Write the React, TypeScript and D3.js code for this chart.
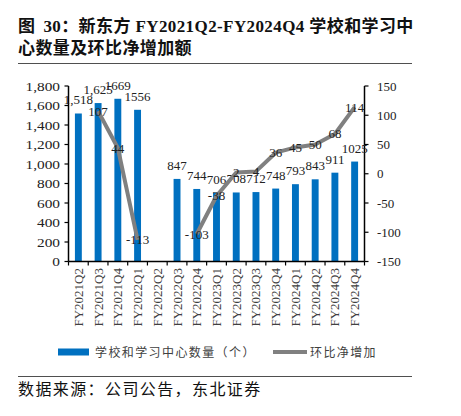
import React from 'react';
import * as d3 from 'd3';

const categories = [
  'FY2021Q2', 'FY2021Q3', 'FY2021Q4', 'FY2022Q1', 'FY2022Q2', 'FY2022Q3', 'FY2022Q4',
  'FY2023Q1', 'FY2023Q2', 'FY2023Q3', 'FY2023Q4', 'FY2024Q1', 'FY2024Q2', 'FY2024Q3', 'FY2024Q4',
];
// schools and learning centers (count); FY2022Q2 not disclosed
const centers: (number | null)[] = [1518, 1625, 1669, 1556, null, 847, 744, 706, 708, 712, 748, 793, 843, 911, 1025];
// labels as printed in the source (mixed thousands separators)
const centerLabels = ['1,518', '1,625', '1669', '1556', '', '847', '744', '706', '708', '712', '748', '793', '843', '911', '1025'];
// quarter-on-quarter net additions
const netAdds: (number | null)[] = [null, 107, 44, -113, null, null, -103, -38, 2, 4, 36, 45, 50, 68, 114];

const leftTicks = [0, 200, 400, 600, 800, 1000, 1200, 1400, 1600, 1800];
const rightTicks = [-150, -100, -50, 0, 50, 100, 150];

const W = 461;
const H = 416;
const SERIF = "'Liberation Serif', 'Times New Roman', 'Noto Sans CJK SC', serif";
const BLUE = '#0070c0';
const GREY = '#808080';

const App = () => {
  const x = d3.scaleBand<string>().domain(categories).range([68.5, 364.5]).padding(0);
  const yL = d3.scaleLinear().domain([0, 1800]).range([261.5, 86]);
  const yR = d3.scaleLinear().domain([-150, 150]).range([261.5, 86]);
  const bw = x.bandwidth() * 0.35;
  const cx = (c: string) => (x(c) as number) + x.bandwidth() / 2;

  const line = d3.line<number | null>()
    .defined(d => d != null)
    .x((_, i) => cx(categories[i]))
    .y(d => yR(d as number));

  const fmt = d3.format(',');

  return (
    <svg width={W} height={H} style={{ position: 'absolute', left: 0, top: 0, background: '#fff' }}
      fontFamily={SERIF}>
      {/* title */}
      <text x={18} y={32} fontSize={17} fontWeight="bold" fill="#111" letterSpacing={0.4}>
        <tspan>图</tspan>
        <tspan dx={8}>30：新东方 FY2021Q2-FY2024Q4 学校和学习中</tspan>
      </text>
      <text x={18} y={54} fontSize={17} fontWeight="bold" fill="#111" letterSpacing={0.4}>
        心数量及环比净增加额
      </text>
      <line x1={18} x2={412} y1={63.5} y2={63.5} stroke="#222" strokeWidth={0.8} />

      {/* bars */}
      {centers.map((v, i) => v == null ? null : (
        <rect key={categories[i]} x={cx(categories[i]) - bw / 2} y={yL(v)}
          width={bw} height={yL(0) - yL(v)} fill={BLUE} />
      ))}

      {/* left axis */}
      <line x1={68.5} x2={68.5} y1={yL(1800)} y2={yL(0)} stroke="#000" strokeWidth={1.5} />
      {leftTicks.map(t => (
        <g key={t}>
          <line x1={64.5} x2={68.5} y1={yL(t)} y2={yL(t)} stroke="#000" strokeWidth={1.2} />
          <text transform={`translate(60,${yL(t) + 4.5}) scale(1.18,1)`} textAnchor="end"
            fontSize={13} fill="#222">{fmt(t)}</text>
        </g>
      ))}

      {/* right axis */}
      <line x1={364.5} x2={364.5} y1={yR(150)} y2={yR(-150)} stroke="#000" strokeWidth={1.5} />
      {rightTicks.map(t => (
        <g key={t}>
          <line x1={364.5} x2={368.5} y1={yR(t)} y2={yR(t)} stroke="#000" strokeWidth={1.2} />
          <text x={377} y={yR(t) + 4.5} fontSize={13} fill="#222">{t}</text>
        </g>
      ))}

      {/* x axis */}
      <line x1={68.5} x2={364.5} y1={yL(0)} y2={yL(0)} stroke="#000" strokeWidth={1.5} />
      {categories.map(c => (
        <line key={c} x1={x(c) as number} x2={x(c) as number} y1={yL(0)} y2={yL(0) + 4}
          stroke="#000" strokeWidth={1.2} />
      ))}
      <line x1={364.5} x2={364.5} y1={yL(0)} y2={yL(0) + 4} stroke="#000" strokeWidth={1.2} />
      {categories.map(c => (
        <text key={c} transform={`translate(${cx(c) + 4.5},268) rotate(-90)`} textAnchor="end"
          fontSize={13} fill="#404040">{c}</text>
      ))}

      {/* bar labels */}
      {centers.map((v, i) => v == null ? null : (
        <text key={categories[i]} x={cx(categories[i])} y={yL(v) - 9} textAnchor="middle"
          fontSize={13} fill="#222">{centerLabels[i]}</text>
      ))}

      {/* net additions line */}
      <path d={line(netAdds) || ''} fill="none" stroke={GREY} strokeWidth={4} strokeLinejoin="round" />
      {netAdds.map((v, i) => v == null ? null : (
        <text key={categories[i]} x={cx(categories[i])} y={yR(v) + 4.5} textAnchor="middle"
          fontSize={13} fill="#222">{v}</text>
      ))}

      {/* legend */}
      <rect x={58} y={348.5} width={31} height={7} fill={BLUE} />
      <text x={95} y={357} fontSize={12} fill="#404040" letterSpacing={1.4}>学校和学习中心数量（个）</text>
      <line x1={273} x2={307} y1={352} y2={352} stroke={GREY} strokeWidth={4} />
      <text x={310} y={357} fontSize={12} fill="#404040" letterSpacing={1.4}>环比净增加</text>

      {/* source */}
      <line x1={18} x2={412} y1={376.5} y2={376.5} stroke="#222" strokeWidth={0.8} />
      <text x={18} y={395} fontSize={16} fill="#111" letterSpacing={1.4}>数据来源：公司公告，东北证券</text>
    </svg>
  );
};

export default App;
